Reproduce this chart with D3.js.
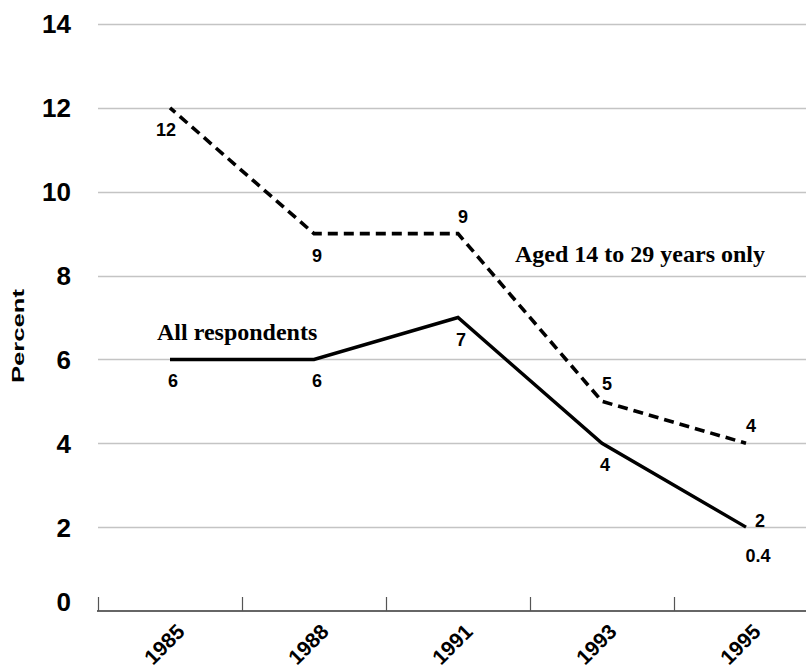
<!DOCTYPE html>
<html>
<head>
<meta charset="utf-8">
<script src="https://cdn.jsdelivr.net/npm/d3@7"></script>
<style>
  html, body { margin: 0; padding: 0; background: #fff; }
  svg { display: block; }
</style>
</head>
<body>
<svg id="chart" width="806" height="669"></svg>
<script>
// Survey years and percentages for the two groups
const years = ['1985', '1988', '1991', '1993', '1995'];
const allRespondents = [6, 6, 7, 4, 2];
const aged14to29 = [12, 9, 9, 5, 4];
const yTicks = [0, 2, 4, 6, 8, 10, 12, 14];

// Where each value label sits relative to its point
const allLabelPlace = ['below', 'below', 'below', 'below', 'right'];
const agedLabelPlace = ['belowLeft', 'below', 'above', 'above', 'above'];
const extraNote = { year: '1995', text: '0.4' };

const W = 806, H = 669;
const svg = d3.select('#chart');
const sans = 'Arial, "Liberation Sans", Helvetica, sans-serif';
const serif = '"Times New Roman", "Liberation Serif", Times, serif';

const x = d3.scaleBand().domain(years).range([98, 818]).padding(0);
const y = d3.scaleLinear().domain([0, 14]).range([611, 24]);
const cx = d => x(d) + x.bandwidth() / 2;

// Horizontal gridlines
svg.append('g')
  .selectAll('line')
  .data(yTicks.filter(v => v > 0))
  .join('line')
  .attr('x1', 98).attr('x2', W)
  .attr('y1', d => Math.round(y(d)) + 0.5).attr('y2', d => Math.round(y(d)) + 0.5)
  .attr('stroke', '#c4c4c4').attr('stroke-width', 1.3);

// Y tick labels
svg.append('g')
  .selectAll('text')
  .data(yTicks)
  .join('text')
  .attr('x', 71)
  .attr('y', d => y(d) + (d === 0 ? -9 : 0))
  .attr('dy', '0.36em')
  .attr('text-anchor', 'end')
  .attr('font-family', sans).attr('font-weight', 'bold').attr('font-size', 26)
  .attr('fill', '#000')
  .text(d => d);

// Y axis title
svg.append('text')
  .attr('transform', 'translate(24,336) rotate(-90)')
  .attr('text-anchor', 'middle')
  .attr('font-family', sans).attr('font-weight', 'bold').attr('font-size', 16)
  .attr('textLength', 94).attr('lengthAdjust', 'spacingAndGlyphs')
  .text('Percent');

// X axis: baseline, category boundary ticks, rotated year labels
const xAxis = svg.append('g');
xAxis.append('line')
  .attr('x1', 97).attr('x2', W)
  .attr('y1', y(0)).attr('y2', y(0))
  .attr('stroke', '#333').attr('stroke-width', 1.6);
xAxis.selectAll('line.tick')
  .data(years)
  .join('line')
  .attr('class', 'tick')
  .attr('x1', d => Math.round(x(d)) + 0.5).attr('x2', d => Math.round(x(d)) + 0.5)
  .attr('y1', y(0)).attr('y2', y(0) - 14)
  .attr('stroke', '#555').attr('stroke-width', 1.2);
xAxis.selectAll('text')
  .data(years)
  .join('text')
  .attr('transform', d => `translate(${cx(d) + 16},633) rotate(-45)`)
  .attr('text-anchor', 'end')
  .attr('font-family', sans).attr('font-weight', 'bold').attr('font-size', 21)
  .text(d => d);

// Lines
const line = d3.line().x((d, i) => cx(years[i])).y(d => y(d));

svg.append('path')
  .datum(aged14to29)
  .attr('d', line)
  .attr('fill', 'none')
  .attr('stroke', '#000').attr('stroke-width', 3.6)
  .attr('stroke-dasharray', '10,6')
  .attr('stroke-dashoffset', 3);

svg.append('path')
  .datum(allRespondents)
  .attr('d', line)
  .attr('fill', 'none')
  .attr('stroke', '#000').attr('stroke-width', 3.4)
  .attr('stroke-linejoin', 'miter');

// Value labels
const place = {
  below: [3, 28],
  belowLeft: [-4, 28],
  above: [5, -11],
  right: [14, 0]
};
function valueLabels(values, places) {
  svg.append('g')
    .selectAll('text')
    .data(values)
    .join('text')
    .attr('x', (d, i) => cx(years[i]) + place[places[i]][0])
    .attr('y', (d, i) => y(d) + place[places[i]][1])
    .attr('text-anchor', 'middle')
    .attr('font-family', sans).attr('font-weight', 'bold').attr('font-size', 18)
    .text(d => d);
}
valueLabels(aged14to29, agedLabelPlace);
valueLabels(allRespondents, allLabelPlace);

// Footnote figure under the last point
svg.append('text')
  .attr('x', cx(extraNote.year) + 12)
  .attr('y', y(allRespondents[years.indexOf(extraNote.year)]) + 35)
  .attr('text-anchor', 'middle')
  .attr('font-family', sans).attr('font-weight', 'bold').attr('font-size', 18)
  .text(extraNote.text);

// Series names
svg.append('text')
  .attr('x', cx('1985') - 13)
  .attr('y', y(allRespondents[0]) - 19)
  .attr('font-family', serif).attr('font-weight', 'bold').attr('font-size', 24)
  .text('All respondents');

svg.append('text')
  .attr('x', cx('1991') + 57)
  .attr('y', y(aged14to29[2]) + 28)
  .attr('font-family', serif).attr('font-weight', 'bold').attr('font-size', 24)
  .text('Aged 14 to 29 years only');
</script>
</body>
</html>
